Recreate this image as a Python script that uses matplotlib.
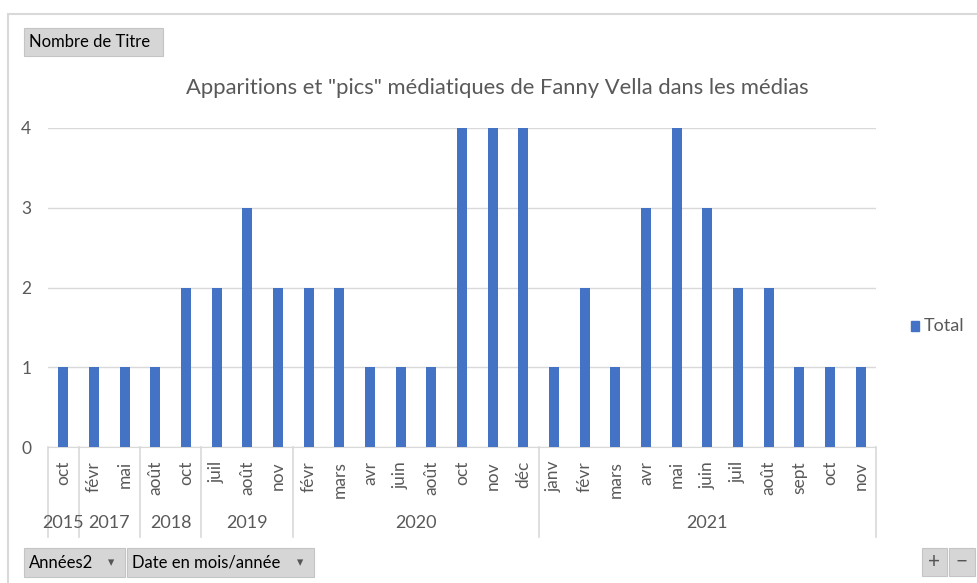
import matplotlib.pyplot as plt
from matplotlib.patches import Rectangle
from matplotlib.lines import Line2D
import matplotlib.transforms as mtransforms

plt.rcParams['font.family'] = ['Lato', 'DejaVu Sans']

# Data
years = ['2015', '2017', '2018', '2019', '2020', '2021']
months = [
    ['oct'],
    ['févr', 'mai'],
    ['août', 'oct'],
    ['juil', 'août', 'nov'],
    ['févr', 'mars', 'avr', 'juin', 'août', 'oct', 'nov', 'déc'],
    ['janv', 'févr', 'mars', 'avr', 'mai', 'juin', 'juil', 'août', 'sept', 'oct', 'nov'],
]
totals = [1,
          1, 1,
          1, 2,
          2, 3, 2,
          2, 2, 1, 1, 1, 4, 4, 4,
          1, 2, 1, 3, 4, 3, 2, 2, 1, 1, 1]

W, H = 978, 583
text_col = '#595959'
bar_col = '#4472C4'
grid_col = '#D9D9D9'

fig = plt.figure(figsize=(W / 100, H / 100), dpi=100)

def px(x0, y0, x1, y1):
    # pixel box (top-left origin) -> figure fraction rect
    return [x0 / W, 1 - y1 / H, (x1 - x0) / W, (y1 - y0) / H]

# chart frame
fig.add_artist(Rectangle((8 / W, -0.05), 1.05, 1 - 14 / H + 0.05, transform=fig.transFigure,
                         fill=False, edgecolor='#D9D9D9', linewidth=1.5))

ax = fig.add_axes(px(48, 128, 876, 447))
labels = [m for grp in months for m in grp]
n = len(labels)
xs = list(range(n))
ax.bar(xs, totals, width=0.33, color=bar_col, label='Total', zorder=3)
ax.set_xlim(-0.5, n - 0.5)
ax.set_ylim(0, 4)
ax.set_yticks([0, 1, 2, 3, 4])
ax.grid(axis='y', color=grid_col, linewidth=1, zorder=0)
for s in ['top', 'right', 'left']:
    ax.spines[s].set_visible(False)
ax.spines['bottom'].set_color(grid_col)
ax.tick_params(axis='y', length=0, pad=12, labelsize=12.5, labelcolor=text_col)
ax.set_xticks(xs)
ax.set_xticklabels(labels, rotation=90, fontsize=12.5, color=text_col)
ax.tick_params(axis='x', length=0, pad=10)

# year groups and separators
trans = mtransforms.blended_transform_factory(ax.transData, ax.transAxes)
sep_bottom = -(537 - 447) / (447 - 128)
year_y = -(523 - 447) / (447 - 128)
start = 0
edges = [-0.5]
for yr, grp in zip(years, months):
    end = start + len(grp)
    edges.append(end - 0.5)
    ax.text((start + end - 1) / 2, year_y, yr, transform=trans, ha='center', va='center',
            fontsize=13, color=text_col)
    start = end
for e in edges:
    ax.add_line(Line2D([e, e], [0, sep_bottom], transform=trans, color=grid_col,
                       linewidth=1.2, clip_on=False))

fig.text(497 / W, 1 - 88 / H, 'Apparitions et "pics" médiatiques de Fanny Vella dans les médias',
         ha='center', va='center', fontsize=15.8, color=text_col)

# legend
fig.add_artist(Rectangle((911 / W, 1 - 331 / H), 8 / W, 10 / H, transform=fig.transFigure,
                         color=bar_col))
fig.text(924 / W, 1 - 326 / H, 'Total', ha='left', va='center', fontsize=13, color=text_col)

# pivot field buttons
def button(x0, y0, x1, y1, text, arrow=False, ha='left'):
    fig.add_artist(Rectangle((x0 / W, 1 - y1 / H), (x1 - x0) / W, (y1 - y0) / H,
                             transform=fig.transFigure, facecolor='#D6D6D6',
                             edgecolor='#C4C4C4', linewidth=0.8))
    if ha == 'left':
        fig.text((x0 + 5) / W, 1 - (y0 + y1) / 2 / H, text, ha='left', va='center',
                 fontsize=12, color='black')
    else:
        fig.text((x0 + x1) / 2 / W, 1 - (y0 + y1) / 2 / H, text, ha='center', va='center',
                 fontsize=15, color='#555555')
    if arrow:
        fig.text((x1 - 14) / W, 1 - (y0 + y1) / 2 / H, '▾', ha='center', va='center',
                 fontsize=9, color='#555555', family='DejaVu Sans')

button(24, 28, 163, 56, 'Nombre de Titre')
button(24, 548, 125, 577, 'Années2', arrow=True)
button(127, 548, 314, 577, 'Date en mois/année', arrow=True)
button(922, 548, 947, 576, '+', ha='center')
button(949, 548, 975, 576, '−', ha='center')

fig.savefig('out.png', dpi=100)
